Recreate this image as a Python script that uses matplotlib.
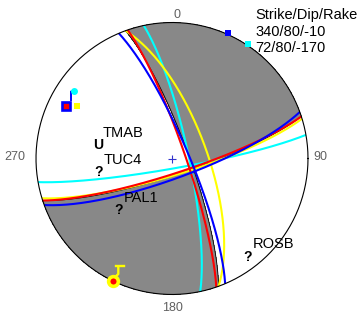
import numpy as np
import matplotlib
matplotlib.use("Agg")
import matplotlib.pyplot as plt

plt.rcParams['font.family'] = ['Liberation Sans', 'DejaVu Sans']

# best solution (gray fill)
main_strike, main_dip, main_rake = 340, 80, -10
aux_strike, aux_dip = 72, 80

# alternative solutions, drawn as nodal planes
sol_colors = ['#00ffff', '#ffff00', '#ff0000', '#0000ff']
sol_strike1 = [348, 340, 341, 337]
sol_dip1 = [80, 69, 82, 80]
sol_strike2 = [80, 73, 72, 70]
sol_dip2 = [84, 80, 81, 78]

# stations: azimuth, take-off angle (deg), polarity
sta_names = ['TMAB', 'TUC4', 'PAL1', 'ROSB']
sta_az = [280, 259.5, 225.8, 142.3]
sta_inc = [46, 45.4, 45.2, 80.6]
sta_pol = ['U', '?', '?', '?']

legend_lines = ['340/80/-10', '72/80/-170']
legend_colors = ['#0000ff', '#00ffff']

PX = 136.0  # pixels per unit radius
CX, CY = 172.0, 158.5


def pix(px, py):
    return (px - CX) / PX, (CY - py) / PX


def project(nn, ee, dd):
    inc = np.arccos(np.clip(dd, -1, 1))
    trend = np.arctan2(ee, nn)
    r = np.sqrt(2) * np.sin(inc / 2)
    return r * np.sin(trend), r * np.cos(trend)


def plane_curve(strike, dip, n=361):
    t = np.linspace(0, np.pi, n)
    s, d = np.radians(strike), np.radians(dip)
    sv = np.array([np.cos(s), np.sin(s), 0.0])
    dv = np.array([np.cos(d) * np.cos(s + np.pi / 2),
                   np.cos(d) * np.sin(s + np.pi / 2), np.sin(d)])
    v = np.outer(np.cos(t), sv) + np.outer(np.sin(t), dv)
    return project(v[:, 0], v[:, 1], v[:, 2])


def station_xy(az, inc):
    r = np.sqrt(2) * np.sin(np.radians(inc) / 2)
    return r * np.sin(np.radians(az)), r * np.cos(np.radians(az))


fig = plt.figure(figsize=(3.6, 3.19), dpi=100)
ax = fig.add_axes([0, 0, 1, 1])
ax.set_xlim(-CX / PX, (360 - CX) / PX)
ax.set_ylim(-(319 - CY) / PX, CY / PX)
ax.axis('off')

# compressional quadrants from radiation pattern
g = np.linspace(-1, 1, 901)
X, Y = np.meshgrid(g, g)
R = np.hypot(X, Y)
inc = 2 * np.arcsin(np.clip(R, 0, 1) / np.sqrt(2))
tr = np.arctan2(X, Y)
xn, xe, xd = np.sin(inc) * np.cos(tr), np.sin(inc) * np.sin(tr), np.cos(inc)
phi, dlt, lam = np.radians([main_strike, main_dip, main_rake])
n = (-np.sin(dlt) * np.sin(phi), np.sin(dlt) * np.cos(phi), -np.cos(dlt))
s = (np.cos(lam) * np.cos(phi) + np.sin(lam) * np.cos(dlt) * np.sin(phi),
     np.cos(lam) * np.sin(phi) - np.sin(lam) * np.cos(dlt) * np.cos(phi),
     -np.sin(lam) * np.sin(dlt))
amp = (xn * n[0] + xe * n[1] + xd * n[2]) * (xn * s[0] + xe * s[1] + xd * s[2])
amp = np.ma.masked_where(R > 1, amp)
ax.contourf(X, Y, amp, levels=[0, 10], colors=['#888888'])

for st, dp in [(main_strike, main_dip), (aux_strike, aux_dip)]:
    x, y = plane_curve(st, dp)
    ax.plot(x, y, color='black', lw=0.6)

for c, s1, d1, s2, d2 in zip(sol_colors, sol_strike1, sol_dip1, sol_strike2, sol_dip2):
    for st, dp in [(s1, d1), (s2, d2)]:
        x, y = plane_curve(st, dp)
        ax.plot(x, y, color=c, lw=1.5, solid_capstyle='butt')

th = np.linspace(0, 2 * np.pi, 400)
ax.plot(np.cos(th), np.sin(th), color='black', lw=0.8)
ax.plot(0, 0, marker='+', color='#3333cc', ms=6, mew=0.8)

# direction labels
for lab, (px, py) in zip(['0', '90', '180', '270'],
                         [(176.5, 15.3), (320.5, 157.5), (172.7, 308), (15, 157)]):
    ax.text(*pix(px, py), lab, color='#606060', fontsize=9, ha='center', va='center')

# stations
for name, az, ic, pol in zip(sta_names, sta_az, sta_inc, sta_pol):
    x, y = station_xy(az, ic)
    ax.text(x, y, pol, fontsize=10, fontweight='bold', ha='center', va='center')
    ax.annotate(name, (x, y), xytext=(3.4, 9), textcoords='offset points',
                fontsize=10.5, ha='left', va='center')

# composite polarity symbols
ax.plot(*zip(pix(71, 100), pix(71, 91.5), pix(74.3, 91.3)), color='#0000ff', lw=1.4)
ax.plot(*pix(66, 105.7), marker='s', ms=6.2, mfc='#ff0000', mec='#0000ff', mew=1.9)
ax.plot(*pix(76.7, 105.8), marker='s', ms=4.9, mfc='#ffff00', mec='#ffff00', mew=0)
ax.plot(*pix(74.3, 91), marker='o', ms=5, mfc='#00ffff', mec='#00ffff', mew=0)

ax.plot(*zip(pix(114, 278), pix(118.3, 274), pix(118.3, 266.5)), color='#ffff00', lw=1.7)
ax.plot(*zip(pix(115.5, 266.3), pix(124, 266.3)), color='#ffff00', lw=1.7)
ax.plot(*pix(113, 280.7), marker='o', ms=7, mfc='#ff0000', mec='#ffff00', mew=2.6)

# legend
ax.text(*pix(255, 15.5), 'Strike/Dip/Rake', fontsize=10.5, ha='left', va='center')
for i, (txt, c) in enumerate(zip(legend_lines, legend_colors)):
    ax.text(*pix(255, 31.5 + 16 * i), txt, fontsize=10.5, ha='left', va='center')
ax.plot(*pix(228.3, 32.7), marker='s', ms=4.8, mfc=legend_colors[0], mec=legend_colors[0], mew=0)
ax.plot(*pix(248.3, 44), marker='s', ms=4.8, mfc=legend_colors[1], mec=legend_colors[1], mew=0)

fig.savefig('out.png', dpi=100)
